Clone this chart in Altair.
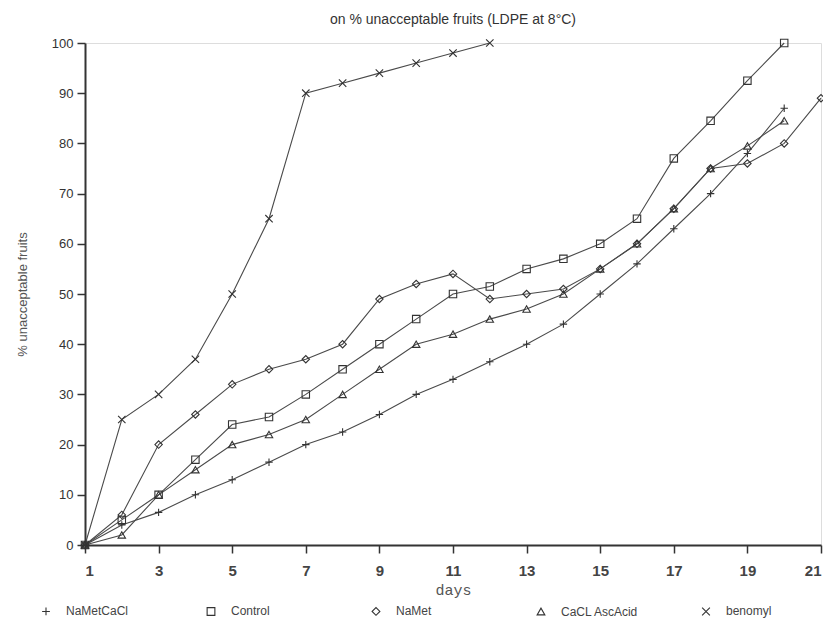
import altair as alt
import pandas as pd

days = list(range(1, 22))
series_names = ["NaMetCaCl", "Control", "NaMet", "CaCL AscAcid", "benomyl"]
na_met_cacl = [0, 4, 6.5, 10, 13, 16.5, 20, 22.5, 26, 30, 33, 36.5, 40, 44, 50, 56, 63, 70, 78, 87]
control = [0, 5, 10, 17, 24, 25.5, 30, 35, 40, 45, 50, 51.5, 55, 57, 60, 65, 77, 84.5, 92.5, 100]
na_met = [0, 6, 20, 26, 32, 35, 37, 40, 49, 52, 54, 49, 50, 51, 55, 60, 67, 75, 76, 80, 89]
cacl_asc = [0, 2, 10, 15, 20, 22, 25, 30, 35, 40, 42, 45, 47, 50, 55, 60, 67, 75, 79.5, 84.5]
benomyl = [0, 25, 30, 37, 50, 65, 90, 92, 94, 96, 98, 100]

shapes = [
    "M-1,0H1M0,-1V1",
    "square",
    "diamond",
    "triangle-up",
    "M-1,-1L1,1M-1,1L1,-1",
]

rows = []
for name, vals in zip(series_names, [na_met_cacl, control, na_met, cacl_asc, benomyl]):
    for d, v in zip(days, vals):
        rows.append({"day": d, "value": v, "series": name})
df = pd.DataFrame(rows)

x_enc = alt.X(
    "day:Q",
    scale=alt.Scale(domain=[1, 21], nice=False, zero=False),
    axis=alt.Axis(
        values=days,
        labelExpr="datum.value % 2 == 1 ? datum.label : ''",
        title="days",
        titleFont="Liberation Mono",
        titleFontWeight="normal",
        titleFontSize=15,
        titleColor="#555",
        titlePadding=4,
        labelFont="Liberation Sans",
        labelFontWeight="bold",
        labelFontSize=15,
        labelColor="#444",
        labelPadding=10,
        tickSize=8,
        tickColor="#333",
        tickWidth=1.5,
        domainColor="#333",
        domainWidth=2,
        grid=False,
    ),
)
y_enc = alt.Y(
    "value:Q",
    scale=alt.Scale(domain=[0, 100], nice=False),
    axis=alt.Axis(
        values=list(range(0, 101, 10)),
        title="% unacceptable fruits",
        titleFont="Liberation Sans",
        titleFontWeight="normal",
        titleFontSize=13,
        titleColor="#555",
        titlePadding=22,
        labelFont="Liberation Sans",
        labelFontSize=13,
        labelColor="#333",
        labelPadding=4,
        tickSize=8,
        tickColor="#333",
        tickWidth=1.5,
        domainColor="#333",
        domainWidth=2,
        grid=False,
    ),
)

lines = alt.Chart(df).mark_line(color="#4a4a4a", strokeWidth=1.1).encode(
    x=x_enc, y=y_enc, detail="series:N", order="day:Q"
)
points = alt.Chart(df).mark_point(
    filled=False, color="#333", strokeWidth=1.1, size=55, opacity=1
).encode(
    x="day:Q",
    y="value:Q",
    shape=alt.Shape(
        "series:N",
        scale=alt.Scale(domain=series_names, range=shapes),
        legend=alt.Legend(
            title=None,
            orient="none",
            legendX=-45,
            legendY=562,
            direction="horizontal",
            columns=5,
            gridAlign="all",
            columnPadding=60,
            labelFont="Liberation Sans",
            labelFontSize=12,
            labelColor="#444",
            labelOffset=14,
            symbolStrokeColor="#333",
            symbolStrokeWidth=1.1,
            symbolSize=60,
        ),
    ),
)

chart = (
    alt.layer(lines, points)
    .properties(
        width=736,
        height=502,
        title=alt.TitleParams(
            "on % unacceptable fruits (LDPE at 8°C)",
            font="Liberation Sans",
            fontSize=14,
            fontWeight="normal",
            color="#333",
            offset=10,
        ),
        autosize=alt.AutoSizeParams(type="none"),
        padding={"left": 77, "top": 35, "right": 2, "bottom": 80},
    )
    .configure_view(stroke="#333", strokeWidth=1.6)
    .configure(background="white")
)

chart.save("out.html", embed_options={"renderer": "svg", "actions": False})
